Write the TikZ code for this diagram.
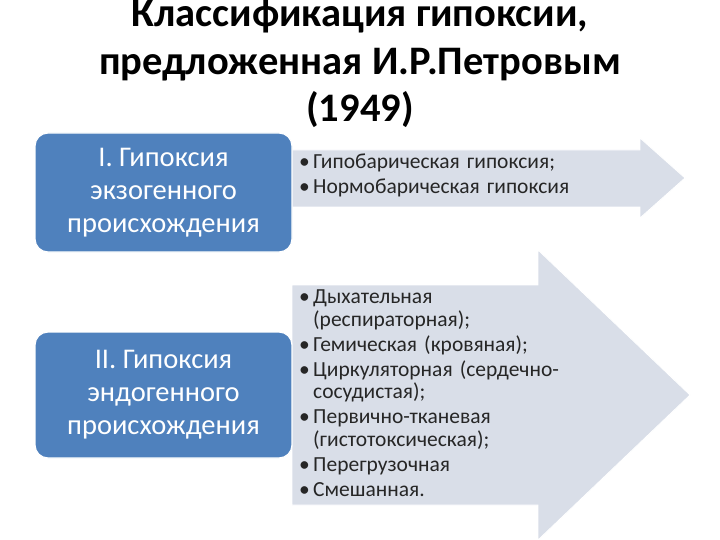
\documentclass[tikz,border=0pt]{standalone}
\usepackage{fontspec}
\setmainfont{Carlito}
\definecolor{boxblue}{HTML}{4F81BD}
\definecolor{arrowfill}{HTML}{D9DEE8}
\definecolor{listtext}{HTML}{262626}
\newcommand{\itm}[1]{\hangindent=14pt\hangafter=1\noindent\makebox[14pt][l]{•}#1\par}

\begin{document}
\begin{tikzpicture}[x=1pt, y=-1pt]
    \tikzstyle{group}=[rounded corners=13pt, fill=boxblue, draw=white, line width=1.2pt, text=white, align=center, minimum width=257pt, inner sep=0pt, font=\fontsize{28.5}{33}\selectfont]
    \tikzstyle{items}=[anchor=north west, inner sep=0pt, text width=330pt, align=left, text=listtext, font=\fontsize{21.5}{22.5}\selectfont\setlength{\parskip}{2.5pt}]
    \tikzstyle{bigarrow}=[fill=arrowfill, draw=white, line width=0.8pt]

    \useasboundingbox (0,0) rectangle (720,540);
    \clip (0,0) rectangle (720,540);
    \fill[white] (0,0) rectangle (720,540);

    \node[font=\bfseries\fontsize{40.5}{47.5}\selectfont, align=center, anchor=north, inner sep=0pt] (title) at (360, -1) {Классификация гипоксии,\\предложенная И.Р.Петровым\\(1949)};

    \draw[bigarrow] (292,150) -- (640,150) -- (640,138) -- (685,178) -- (640,218) -- (640,207) -- (292,207) -- cycle;
    \draw[bigarrow] (292,285) -- (538,285) -- (538,250) -- (690,395) -- (538,540) -- (538,505) -- (292,505) -- cycle;

    \node[group, minimum height=119pt] (exo) at (163.5, 192.5) {I. Гипоксия\\экзогенного\\происхождения};
    \node[group, minimum height=126pt] (endo) at (163.5, 395) {II. Гипоксия\\эндогенного\\происхождения};

    \node[items] (exolist) at (299, 154) {\itm{Гипобарическая гипоксия;}\itm{Нормобарическая гипоксия}};
    \node[items] (endolist) at (299, 290) {\itm{Дыхательная\newline(респираторная);}\itm{Гемическая (кровяная);}\itm{Циркуляторная (сердечно-\newline сосудистая);}\itm{Первично-тканевая\newline(гистотоксическая);}\itm{Перегрузочная}\itm{Смешанная.}};
\end{tikzpicture}
\end{document}
